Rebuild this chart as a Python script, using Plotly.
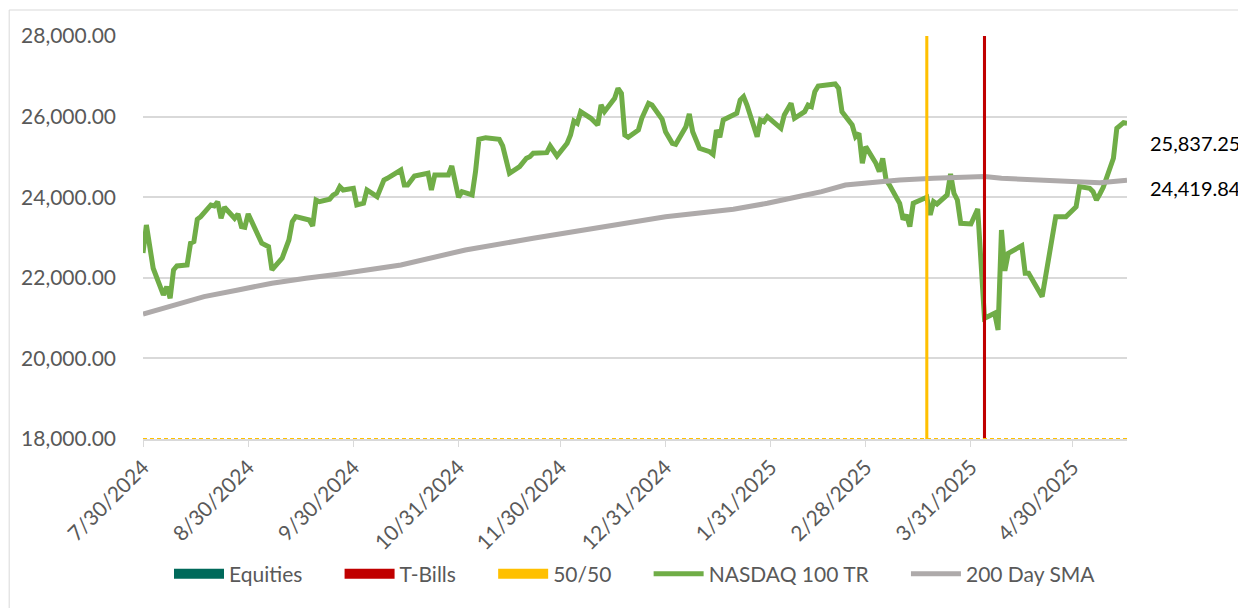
import plotly.graph_objects as go

# NASDAQ 100 TR
nasdaq_dates = [
    "2024-07-30", "2024-07-31", "2024-08-02", "2024-08-05", "2024-08-06", "2024-08-07",
    "2024-08-08", "2024-08-09", "2024-08-12", "2024-08-13", "2024-08-14", "2024-08-15",
    "2024-08-16", "2024-08-19", "2024-08-20", "2024-08-21", "2024-08-22", "2024-08-23",
    "2024-08-26", "2024-08-27", "2024-08-28", "2024-08-29", "2024-08-30", "2024-09-03",
    "2024-09-05", "2024-09-06", "2024-09-09", "2024-09-11", "2024-09-12", "2024-09-13",
    "2024-09-17", "2024-09-18", "2024-09-19", "2024-09-20", "2024-09-23", "2024-09-24",
    "2024-09-25", "2024-09-26", "2024-09-27", "2024-09-30", "2024-10-01", "2024-10-03",
    "2024-10-04", "2024-10-07", "2024-10-09", "2024-10-10", "2024-10-14", "2024-10-15",
    "2024-10-16", "2024-10-18", "2024-10-22", "2024-10-23", "2024-10-24", "2024-10-28",
    "2024-10-29", "2024-10-31", "2024-11-01", "2024-11-04", "2024-11-05", "2024-11-06",
    "2024-11-08", "2024-11-11", "2024-11-12", "2024-11-13", "2024-11-15", "2024-11-18",
    "2024-11-20", "2024-11-21", "2024-11-22", "2024-11-26", "2024-11-27", "2024-11-29",
    "2024-12-02", "2024-12-03", "2024-12-04", "2024-12-05", "2024-12-06", "2024-12-09",
    "2024-12-11", "2024-12-12", "2024-12-13", "2024-12-16", "2024-12-17", "2024-12-18",
    "2024-12-19", "2024-12-20", "2024-12-23", "2024-12-24", "2024-12-26", "2024-12-27",
    "2024-12-30", "2024-12-31", "2025-01-02", "2025-01-03", "2025-01-06", "2025-01-07",
    "2025-01-08", "2025-01-10", "2025-01-13", "2025-01-14", "2025-01-15", "2025-01-16",
    "2025-01-17", "2025-01-21", "2025-01-22", "2025-01-23", "2025-01-24", "2025-01-27",
    "2025-01-28", "2025-01-29", "2025-01-30", "2025-02-03", "2025-02-04", "2025-02-06",
    "2025-02-07", "2025-02-10", "2025-02-11", "2025-02-12", "2025-02-13", "2025-02-14",
    "2025-02-19", "2025-02-20", "2025-02-21", "2025-02-24", "2025-02-25", "2025-02-26",
    "2025-02-27", "2025-02-28", "2025-03-03", "2025-03-04", "2025-03-05", "2025-03-06",
    "2025-03-07", "2025-03-10", "2025-03-11", "2025-03-12", "2025-03-13", "2025-03-14",
    "2025-03-17", "2025-03-18", "2025-03-19", "2025-03-20", "2025-03-21", "2025-03-24",
    "2025-03-25", "2025-03-26", "2025-03-27", "2025-03-28", "2025-03-31", "2025-04-02",
    "2025-04-04", "2025-04-07", "2025-04-08", "2025-04-09", "2025-04-10", "2025-04-11",
    "2025-04-15", "2025-04-16", "2025-04-17", "2025-04-21", "2025-04-22", "2025-04-25",
    "2025-04-28", "2025-04-30", "2025-05-01", "2025-05-02", "2025-05-05", "2025-05-06",
    "2025-05-07", "2025-05-08", "2025-05-09", "2025-05-12", "2025-05-13", "2025-05-15",
    "2025-05-16",
]
nasdaq_values = [
    22616, 23311, 22237, 21574, 21780, 21492,
    22194, 22294, 22318, 22857, 22897, 23452,
    23517, 23807, 23782, 23889, 23477, 23750,
    23477, 23584, 23269, 23254, 23584, 22857,
    22773, 22194, 22485, 22939, 23393, 23517,
    23435, 23286, 23931, 23889, 23950, 24050,
    24097, 24262, 24179, 24221, 23807, 23849,
    24179, 24013, 24427, 24469, 24675, 24303,
    24303, 24527, 24594, 24179, 24551, 24551,
    24775, 23998, 24137, 24055, 24634, 25437,
    25477, 25460, 25437, 25271, 24594, 24757,
    24966, 25006, 25090, 25105, 25271, 25023,
    25338, 25544, 25891, 25834, 26122, 25958,
    25792, 26288, 26122, 26454, 26702, 26578,
    25544, 25487, 25668, 25958, 26330, 26288,
    25933, 25626, 25338, 25313, 25750, 26065,
    25626, 25214, 25130, 25065, 25668, 25487,
    25916, 26082, 26412, 26494, 26288, 25502,
    25916, 25874, 25998, 25710, 26040, 26330,
    25958, 26122, 26288, 26246, 26618, 26759,
    26809, 26702, 26122, 25792, 25502, 25586,
    24842, 25254, 24842, 24634, 24966, 24427,
    24303, 23849, 23450, 23559, 23269, 23849,
    23950, 23998, 23559, 23889, 23832, 24055,
    24576, 24097, 23931, 23353, 23336, 23708,
    20996, 21120, 20706, 23187, 22177, 22609,
    22797, 22113, 22113, 21532, 22028, 23517,
    23517, 23683, 23765, 24262, 24221, 24137,
    23931, 24080, 24246, 24966, 25710, 25849,
    25837.25,
]

# 200 Day SMA
sma_dates = [
    "2024-07-30", "2024-08-07", "2024-08-17", "2024-08-27", "2024-09-06", "2024-09-16",
    "2024-09-26", "2024-10-14", "2024-11-02", "2024-11-22", "2024-12-12", "2024-12-31",
    "2025-01-20", "2025-01-30", "2025-02-09", "2025-02-15", "2025-02-22", "2025-02-28",
    "2025-03-10", "2025-03-20", "2025-03-30", "2025-04-04", "2025-04-09", "2025-04-19",
    "2025-04-28", "2025-05-08", "2025-05-16",
]
sma_values = [
    21100, 21284, 21532, 21698, 21864, 21989,
    22095, 22318, 22690, 22980, 23269, 23517,
    23700, 23849, 24030, 24137, 24303, 24361,
    24427, 24469, 24510, 24515, 24469, 24427,
    24378, 24361, 24419.84,
]

# allocation switches
equities_dates = ["2024-07-30"]
equities_values = [0]
tbills_dates = ["2025-04-04"]
tbills_values = [1]
fifty_dates = ["2025-03-18"]
fifty_values = [1]

tick_dates = ["2024-07-30", "2024-08-30", "2024-09-30", "2024-10-31", "2024-11-30",
              "2024-12-31", "2025-01-31", "2025-02-28", "2025-03-31", "2025-04-30"]
tick_labels = ["7/30/2024", "8/30/2024", "9/30/2024", "10/31/2024", "11/30/2024",
               "12/31/2024", "1/31/2025", "2/28/2025", "3/31/2025", "4/30/2025"]

DAY = 86400000
FONT = "Lato"
GREY_TXT = "#595959"
GRID = "#D9D9D9"
PAD = "\u00a0" * 6  # extra room between legend entries

fig = go.Figure()
bar_series = [
    ("Equities", equities_dates, equities_values, "#00695A"),
    ("T-Bills", tbills_dates, tbills_values, "#C00000"),
    ("50/50", fifty_dates, fifty_values, "#FFC000"),
]
for name, xs, ys, col in bar_series:
    fig.add_trace(go.Bar(x=xs, y=ys, name=name, marker_color=col, marker_line_width=0,
                         width=DAY * 0.9, yaxis="y2", showlegend=False))

# legend swatches for the bar series
for name, xs, ys, col in bar_series:
    fig.add_trace(go.Scatter(x=[None], y=[None], name=name + PAD, mode="lines",
                             line=dict(color=col, width=14)))

fig.add_trace(go.Scatter(x=nasdaq_dates, y=nasdaq_values, name="NASDAQ 100 TR" + PAD, mode="lines",
                         line=dict(color="#70AD47", width=5)))
fig.add_trace(go.Scatter(x=sma_dates, y=sma_values, name="200 Day SMA", mode="lines",
                         line=dict(color="#AEAAAA", width=5)))

# leader lines + end labels
end_date = nasdaq_dates[-1]
for val, drop in [(nasdaq_values[-1], -20), (sma_values[-1], -8)]:
    fig.add_shape(type="line", xref="x", yref="y", xsizemode="pixel", ysizemode="pixel",
                  xanchor=end_date, yanchor=val, x0=1, x1=1, y0=-2, y1=drop,
                  line=dict(color="#A6A6A6", width=1.5))
    fig.add_shape(type="line", xref="x", yref="y", xsizemode="pixel", ysizemode="pixel",
                  xanchor=end_date, yanchor=val, x0=1, x1=13, y0=drop, y1=drop,
                  line=dict(color="#A6A6A6", width=1.5))
    fig.add_annotation(x=end_date, y=val, text=f"{val:,.2f}", showarrow=False,
                       xanchor="left", yanchor="middle", xshift=21, yshift=drop,
                       font=dict(family=FONT, size=20, color="#000000"))

# dashed strip along the base and outer chart border
fig.add_shape(type="line", xref="x", yref="y", x0=nasdaq_dates[0], x1=end_date, y0=18000, y1=18000,
              line=dict(color="#FFC000", width=2, dash="4px,3px"), layer="above")
fig.add_shape(type="rect", xref="paper", yref="paper", x0=-0.136, x1=1.2, y0=-0.6, y1=1.0645,
              line=dict(color=GRID, width=1))

fig.update_layout(
    width=1246, height=608,
    margin=dict(l=135, r=127, t=28, b=177),
    plot_bgcolor="white", paper_bgcolor="white",
    font=dict(family=FONT, size=21, color=GREY_TXT),
    barmode="overlay",
    showlegend=True,
    legend=dict(orientation="h", x=0.5, xanchor="center", y=-0.335, yanchor="middle",
                font=dict(family=FONT, size=21, color=GREY_TXT), itemwidth=50,
                traceorder="normal"),
    xaxis=dict(type="date", range=[nasdaq_dates[0], end_date], tickvals=tick_dates,
               ticktext=tick_labels, tickangle=-45, showgrid=False, showline=True,
               linecolor=GRID, linewidth=1.5, ticks="outside", ticklen=6, tickcolor=GRID,
               tickfont=dict(family=FONT, size=21, color=GREY_TXT)),
    yaxis=dict(range=[18000, 28000], tickvals=[18000, 20000, 22000, 24000, 26000, 28000],
               tickformat=",.2f", showgrid=True, gridcolor=GRID, gridwidth=1.5,
               zeroline=False, showline=False, ticks="", ticklabelstandoff=26,
               tickfont=dict(family=FONT, size=21, color=GREY_TXT)),
    yaxis2=dict(range=[0, 1], overlaying="y", visible=False),
)

fig.write_html("out.html")
